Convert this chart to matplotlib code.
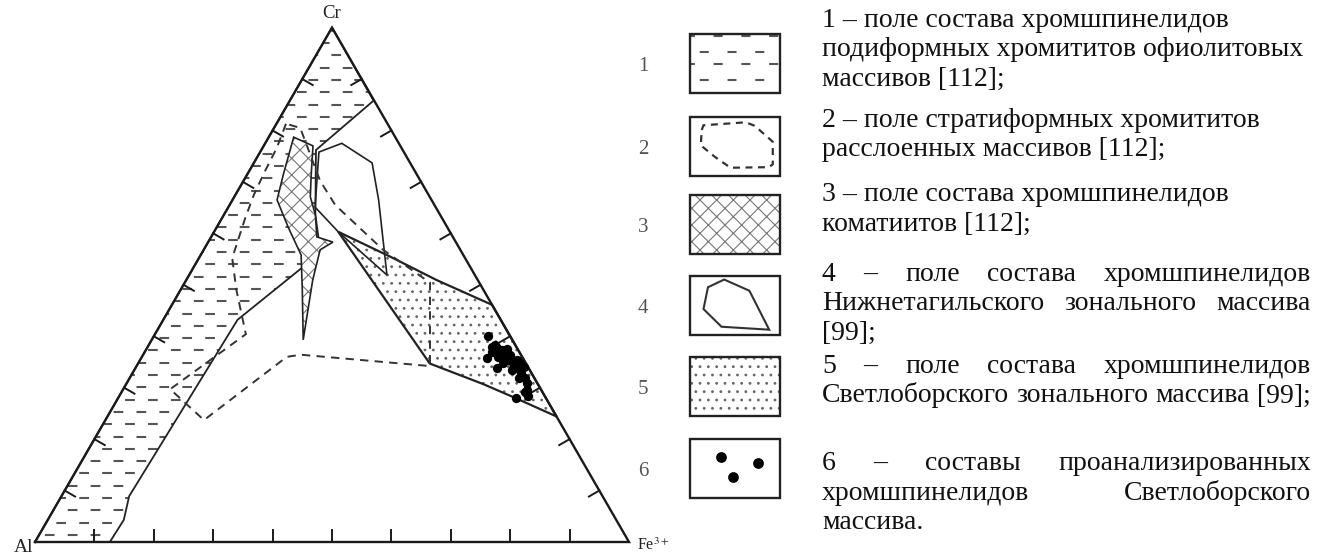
import numpy as np
import matplotlib
matplotlib.use("Agg")
import matplotlib.pyplot as plt
from matplotlib.patches import Polygon, Rectangle

plt.rcParams['font.family'] = ['Liberation Serif', 'DejaVu Serif']
plt.rcParams['mathtext.fontset'] = 'stix'
plt.rcParams['lines.scale_dashes'] = False
plt.rcParams['hatch.linewidth'] = 0.8
plt.rcParams['hatch.color'] = '#777777'

# Field outlines in ternary coordinates: % Cr and % Fe3+ (Al = remainder)
field1_cr = [100, 85.8, 76.2, 63.6, 56.8, 53.5, 43.2, 8.9, 4.3, 0, 0]
field1_fe = [0, 14.1, 9.2, 15.4, 19.6, 18.4, 12.5, 11.4, 12.8, 12.6, 0]

field2_cr = [81.3, 76.6, 71.7, 67.5, 63.0, 55.2, 49.0, 40.4, 29.7, 23.7, 36.0, 36.4,
             34.2, 50.4, 56.8, 65.5, 70.2, 80.5]
field2_fe = [1.6, 2.4, 2.7, 3.1, 3.9, 5.6, 9.4, 15.3, 7.9, 16.6, 24.4, 26.6,
             49.4, 41.3, 30.2, 17.8, 12.9, 4.4]

field3_cr = [78.7, 77.0, 71.4, 67.1, 63.6, 59.3, 58.3, 56.8, 50.9, 39.3, 49.0, 55.8,
             61.0, 66.5, 71.4]
field3_fe = [4.2, 8.3, 10.8, 12.8, 15.4, 17.8, 21.0, 19.6, 21.3, 25.5, 20.5, 16.9,
             12.2, 7.5, 6.1]

field4_cr = [75.8, 77.5, 73.7, 66.5, 51.9, 60.3, 65.1]
field4_fe = [9.9, 12.9, 19.9, 24.6, 33.3, 20.9, 14.6]

field5_cr = [60.3, 55.5, 50.9, 46.1, 24.4, 27.9, 30.7, 34.7]
field5_fe = [20.9, 32.0, 42.2, 53.9, 75.6, 67.1, 60.1, 49.1]

# analysed chromespinels (Svetloborsk)
points_cr = [40.0, 35.7, 38.0, 37.7, 37.3, 36.0, 36.0, 35.4, 34.7, 34.7, 33.8, 33.8,
             34.1, 32.8, 31.8, 30.9, 29.2, 28.3, 27.9, 29.6, 38.3, 36.4, 35.4, 34.7,
             36.9, 37.5, 33.4, 31.9]
points_fe = [56.3, 58.2, 57.9, 58.9, 59.9, 60.0, 61.1, 62.0, 63.2, 61.5, 60.9, 64.2,
             65.2, 65.5, 66.6, 67.4, 67.9, 68.9, 67.0, 68.0, 58.3, 61.8, 63.4, 64.3,
             58.5, 60.7, 63.6, 65.5]

tick_steps = [0.1, 0.2, 0.3, 0.4, 0.5, 0.6, 0.7, 0.8, 0.9]

legend_numbers = ['1', '2', '3', '4', '5', '6']
legend_paragraphs = [
    [("1 – поле состава хромшпинелидов", False),
     ("подиформных хромититов офиолитовых", False),
     ("массивов [112];", False)],
    [("2 – поле стратиформных хромититов", False),
     ("расслоенных массивов [112];", False)],
    [("3 – поле состава хромшпинелидов", False),
     ("коматиитов [112];", False)],
    [("4 – поле состава хромшпинелидов", True),
     ("Нижнетагильского зонального массива", True),
     ("[99];", False)],
    [("5 – поле состава хромшпинелидов", True),
     ("Светлоборского зонального массива [99];", True)],
    [("6 – составы проанализированных", True),
     ("хромшпинелидов Светлоборского", True),
     ("массива.", False)],
]

# legend glyph shapes (fractions of box, y from top)
leg2_x = [0.13, 0.15, 0.62, 0.72, 0.92, 0.92, 0.88, 0.45, 0.28, 0.12]
leg2_y = [0.22, 0.14, 0.09, 0.15, 0.42, 0.80, 0.85, 0.86, 0.68, 0.48]
leg4_x = [0.38, 0.66, 0.88, 0.35, 0.15, 0.20]
leg4_y = [0.06, 0.25, 0.91, 0.86, 0.56, 0.19]
leg6_x = [0.34, 0.75, 0.48]
leg6_y = [0.31, 0.41, 0.64]

H3 = np.sqrt(3) / 2


def tern(cr, fe):
    cr = np.asarray(cr, dtype=float) / 100
    fe = np.asarray(fe, dtype=float) / 100
    return fe + cr / 2, cr * H3


W, H = 1317, 555
fig = plt.figure(figsize=(W / 100, H / 100), dpi=100)
ax = fig.add_axes([0, 0, 660 / W, 1])
ax.set_xlim(-35 / 594, 625 / 594)
ax.set_ylim(-13 / 594, 542 / 594)
ax.axis('off')

dash_a = (0, (7, 9.5))
dash_b = (8.2, (7, 9.5))
gray = '#555555'

# field 1 - dashed hatch
x1, y1 = tern(field1_cr, field1_fe)
p1 = Polygon(np.column_stack([x1, y1]), closed=True, fc='none', ec='#222', lw=1.3, zorder=3)
ax.add_patch(p1)
rows = np.arange(0.012, H3, 0.0207)
for k, ls in enumerate([dash_a, dash_b]):
    hl = ax.hlines(rows[k::2], -0.1, 1.1, colors=gray, linewidth=1.5, linestyles=[ls], zorder=2)
    hl.set_clip_path(p1)

# field 5 - dots
x5, y5 = tern(field5_cr, field5_fe)
ax.add_patch(Polygon(np.column_stack([x5, y5]), closed=True, fc='white', ec='#666666',
                     lw=0, hatch='..', zorder=2))
ax.add_patch(Polygon(np.column_stack([x5, y5]), closed=True, fc='none', ec='#222', lw=1.6, zorder=4))

# field 4
x4, y4 = tern(field4_cr, field4_fe)
ax.add_patch(Polygon(np.column_stack([x4, y4]), closed=True, fc='none', ec='#222', lw=1.2, zorder=4))

# field 3 - cross hatch
x3, y3 = tern(field3_cr, field3_fe)
ax.add_patch(Polygon(np.column_stack([x3, y3]), closed=True, fc='white', ec='#777777',
                     lw=0, hatch='xx', zorder=3))
ax.add_patch(Polygon(np.column_stack([x3, y3]), closed=True, fc='none', ec='#222', lw=1.2, zorder=4))

# field 2 - dashed outline
x2, y2 = tern(field2_cr, field2_fe)
ax.add_patch(Polygon(np.column_stack([x2, y2]), closed=True, fc='none', ec='#333', lw=1.4,
                     ls=(0, (6, 4.5)), zorder=4))

# analysed points
px, py = tern(points_cr, points_fe)
ax.scatter(px, py, s=45, color='black', zorder=6, linewidths=0)

# triangle frame and ticks
ax.plot([0, 1, 0.5, 0], [0, 0, H3, 0], color='#1a1a1a', lw=1.7, zorder=5, solid_joinstyle='miter')
L = 12 / 594
for t in tick_steps:
    ax.plot([t, t], [0, L], color='#1a1a1a', lw=1.4, zorder=5)
    lx, ly = t * 0.5, t * H3
    ax.plot([lx, lx + L * H3], [ly, ly - L * 0.5], color='#1a1a1a', lw=1.4, zorder=5)
    rx, ry = 1 - t * 0.5, t * H3
    ax.plot([rx, rx - L * H3], [ry, ry - L * 0.5], color='#1a1a1a', lw=1.4, zorder=5)

ax.text(0.5, H3 + 6 / 594, 'Cr', ha='center', va='bottom', fontsize=13.5, color='#222')
ax.text(-2 / 594, -10 / 594, 'Al', ha='right', va='baseline', fontsize=14, color='#222')
ax.text(1 + 8 / 594, -8 / 594, r'Fe$^{3+}$', ha='left', va='baseline', fontsize=11.5, color='#222')

# legend in pixel coordinates
lax = fig.add_axes([0, 0, 1, 1])
lax.set_xlim(0, W)
lax.set_ylim(H, 0)
lax.axis('off')

box_x, box_w, box_h = 690, 90, 59
box_tops = [34, 117, 195, 276, 357, 439]
first_baselines = [27, 127, 201, 281, 373, 470]
line_step = 29.5
x_left, x_right = 822, 1311
fs = 20

for num, top in zip(legend_numbers, box_tops):
    lax.text(643, top + box_h / 2 + 3, num, ha='center', va='center', fontsize=15, color='#555')

rects = []
for top in box_tops:
    r = Rectangle((box_x, top), box_w, box_h, fc='none', ec='#222', lw=1.7, zorder=5)
    lax.add_patch(r)
    rects.append(r)

# box 1 dashes
r0 = box_tops[0]
for ys, ls in [([r0 + 1.5, r0 + 30], (3, (6.5, 13.5))),
               ([r0 + 17.5, r0 + 46], (13, (6.5, 13.5)))]:
    hl = lax.hlines(ys, box_x, box_x + box_w, colors=gray, linewidth=1.5, linestyles=[ls])
    hl.set_clip_path(rects[0])

# box 2 dashed polygon
t2 = box_tops[1]
lax.add_patch(Polygon(np.column_stack([box_x + np.array(leg2_x) * box_w,
                                       t2 + np.array(leg2_y) * box_h]),
                      closed=True, fc='none', ec='#333', lw=1.6, ls=(0, (5, 4))))
# box 3 cross hatch
lax.add_patch(Rectangle((box_x, box_tops[2]), box_w, box_h, fc='white', ec='#777777',
                        lw=0, hatch='xx', zorder=2))
# box 4 polygon
t4 = box_tops[3]
lax.add_patch(Polygon(np.column_stack([box_x + np.array(leg4_x) * box_w,
                                       t4 + np.array(leg4_y) * box_h]),
                      closed=True, fc='none', ec='#333', lw=1.5))
# box 5 dots
lax.add_patch(Rectangle((box_x, box_tops[4]), box_w, box_h, fc='white', ec='#666666',
                        lw=0, hatch='..', zorder=2))
# box 6 dots
t6 = box_tops[5]
lax.scatter(box_x + np.array(leg6_x) * box_w, t6 + np.array(leg6_y) * box_h,
            s=60, color='black', linewidths=0)

renderer = fig.canvas.get_renderer()


def put_line(text, y, justify):
    if not justify:
        lax.text(x_left, y, text, fontsize=fs, va='baseline', ha='left', color='#111')
        return
    words = text.split(' ')
    arts = [lax.text(x_left, y, w, fontsize=fs, va='baseline', ha='left', color='#111')
            for w in words]
    widths = [a.get_window_extent(renderer).width for a in arts]
    gap = (x_right - x_left - sum(widths)) / (len(words) - 1)
    gap = max(gap, 4)
    xx = x_left
    for a, w in zip(arts, widths):
        a.set_x(xx)
        xx += w + gap


for para, base in zip(legend_paragraphs, first_baselines):
    for i, (line, just) in enumerate(para):
        put_line(line, base + i * line_step, just)

fig.savefig('out.png', dpi=100)
